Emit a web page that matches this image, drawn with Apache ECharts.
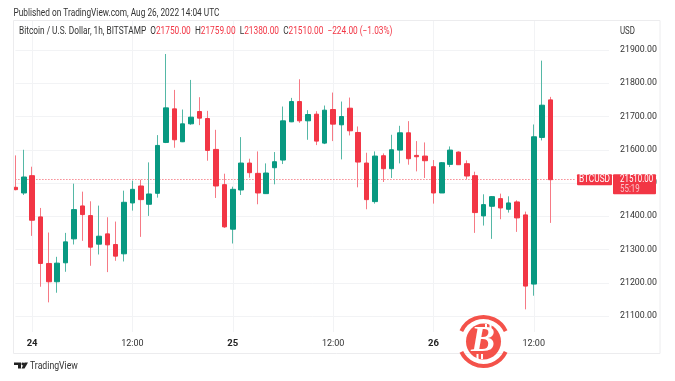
<!DOCTYPE html>
<html><head><meta charset="utf-8">
<style>html,body{margin:0;padding:0;background:#fff}#c{width:675px;height:381px}</style>
<script src="https://cdn.jsdelivr.net/npm/echarts@6/dist/echarts.min.js"></script></head>
<body><div id="c"></div>
<script>
const timeLabels=['22:00','23:00','24','01:00','02:00','03:00','04:00','05:00','06:00','07:00','08:00','09:00','10:00','11:00','12:00','13:00','14:00','15:00','16:00','17:00','18:00','19:00','20:00','21:00','22:00','23:00','25','01:00','02:00','03:00','04:00','05:00','06:00','07:00','08:00','09:00','10:00','11:00','12:00','13:00','14:00','15:00','16:00','17:00','18:00','19:00','20:00','21:00','22:00','23:00','26','01:00','02:00','03:00','04:00','05:00','06:00','07:00','08:00','09:00','10:00','11:00','12:00','13:00','14:00','15:00','16:00','17:00','18:00','19:00','20:00','21:00'];
const opens=[21487,21470,21522,21398,21258,21203,21260,21332,21431,21402,21316,21347,21315,21287,21440,21491,21436,21469,21622,21723,21624,21678,21715,21694,21601,21495,21361,21479,21560,21529,21468,21546,21569,21684,21745,21687,21707,21620,21721,21675,21725,21652,21560,21444,21582,21543,21599,21651,21583,21581,21549,21470,21556,21593,21558,21522,21401,21430,21453,21421,21443,21404,21196,21637,21750];
const closes=[21480,21518,21388,21258,21203,21259,21323,21420,21405,21307,21340,21314,21280,21442,21481,21450,21467,21613,21726,21630,21678,21698,21695,21598,21491,21368,21481,21560,21531,21470,21530,21564,21687,21745,21687,21706,21626,21719,21677,21700,21657,21563,21450,21581,21543,21600,21651,21573,21579,21567,21470,21561,21599,21555,21521,21411,21435,21459,21425,21440,21395,21190,21639,21734,21510];
const highs=[21583,21600,21549,21425,21351,21278,21350,21498,21474,21445,21432,21397,21384,21477,21507,21510,21562,21644,21888,21780,21721,21810,21758,21717,21660,21528,21489,21638,21573,21595,21559,21593,21730,21756,21812,21719,21716,21733,21772,21745,21757,21670,21591,21595,21589,21645,21672,21686,21626,21622,21569,21563,21610,21595,21568,21534,21466,21460,21468,21460,21448,21414,21676,21868,21759];
const lows=[21478,21464,21341,21188,21141,21170,21233,21315,21326,21251,21285,21232,21266,21264,21417,21338,21401,21456,21620,21606,21623,21675,21674,21567,21455,21365,21318,21464,21516,21436,21468,21496,21557,21683,21681,21630,21614,21617,21626,21571,21643,21487,21421,21438,21503,21515,21559,21555,21535,21515,21438,21470,21548,21555,21511,21350,21372,21332,21391,21411,21353,21120,21161,21628,21380];
const priceTicks=[21100,21200,21300,21400,21500,21600,21700,21800,21900];
const dayLabels=['24','25','26'];
const hourLabels=['12:00'];
const UP='#089981',DOWN='#F23645',UPWICK='#55b8a6',DOWNWICK='#f67a85';
const FONT='Roboto,sans-serif';
const fmt=v=>v.toFixed(2);
const n=opens.length,last=n-1;
const candle=opens.map((o,i)=>[o,closes[i],lows[i],highs[i]]);
const bodies=opens.map((o,i)=>[o,closes[i],Math.min(o,closes[i]),Math.max(o,closes[i])]);
const change=closes[last]-closes[last-1];
const chart=echarts.init(document.getElementById('c'),null,{renderer:'canvas'});
const showTick=(i)=>i%12===2;
chart.setOption({
 animation:false,
 backgroundColor:'#fff',
 grid:[
  {left:15.4,width:593.6,top:16.75,height:332.5},
  {left:15.4,width:593.6,top:20,bottom:49}
 ],
 xAxis:[
  {type:'category',gridIndex:0,data:timeLabels,boundaryGap:false,axisLine:{show:false},axisTick:{show:false},axisLabel:{show:false},splitLine:{show:false}},
  {type:'category',gridIndex:1,data:timeLabels,boundaryGap:false,axisLine:{show:false},axisTick:{show:false},
   axisLabel:{margin:7,fontFamily:FONT,fontSize:9,color:'#333',interval:(i)=>showTick(i),
    formatter:(v)=>dayLabels.includes(v)?`{d|${v}}`:(hourLabels.includes(v)?v:''),
    rich:{d:{fontFamily:FONT,fontSize:9.5,fontWeight:'bold',color:'#222'}}},
   splitLine:{show:true,interval:(i)=>showTick(i),lineStyle:{color:'#f2f3f5',width:1}}}
 ],
 yAxis:[
  {type:'value',gridIndex:0,position:'right',min:21000,max:22000,interval:100,axisLine:{show:false},axisTick:{show:false},
   axisLabel:{margin:11,fontFamily:FONT,fontSize:8.8,color:'#333',showMinLabel:false,showMaxLabel:false,formatter:(v)=>priceTicks.includes(v)?fmt(v):''},
   splitLine:{show:true,showMinLine:false,showMaxLine:false,lineStyle:{color:'#f2f3f5',width:1}}},
  {type:'value',gridIndex:1,show:false,min:0,max:1}
 ],
 series:[{
  name:'BTCUSD wicks',type:'candlestick',xAxisIndex:0,yAxisIndex:0,data:candle,barWidth:1,clip:false,z:5,
  itemStyle:{color:UPWICK,color0:DOWNWICK,borderColor:UPWICK,borderColor0:DOWNWICK,borderWidth:1},
  markLine:{silent:true,symbol:'none',label:{show:false},animation:false,
   lineStyle:{color:'#f4505d',type:[1,2],width:1,opacity:1},
   data:[[{coord:[0,closes[last]]},{coord:[67,closes[last]]}]]}
 },{
  name:'BTCUSD',type:'candlestick',xAxisIndex:0,yAxisIndex:0,data:bodies,barWidth:5,clip:false,z:6,
  itemStyle:{color:UP,color0:DOWN,borderColor:UP,borderColor0:DOWN,borderWidth:1}
 }]
});
const py=chart.convertToPixel({yAxisIndex:0},closes[last]);
const SX=0.79;
const headerRich={k:{fontFamily:FONT,fontSize:10.5,fill:'#333',color:'#333'},v:{fontFamily:FONT,fontSize:10.5,fill:DOWN,color:DOWN}};
const legend=`Bitcoin / U.S. Dollar, 1h, BITSTAMP  {k|O}{v|${fmt(opens[last])}}  {k|H}{v|${fmt(highs[last])}}  {k|L}{v|${fmt(lows[last])}}  {k|C}{v|${fmt(closes[last])}}  {v|\u2212${fmt(-change)} (\u2212${(-change/closes[last-1]*100).toFixed(2)}%)}`;
const label=(x,y,text,size,extra)=>({type:'text',z:15,x,y,scaleX:SX,style:Object.assign({x:0,y:0,text,fill:'#333',font:size+'px '+FONT,align:'left',verticalAlign:'middle'},extra||{})});
chart.setOption({graphic:[
 {type:'rect',z:10,shape:{x:0,y:16,width:13,height:340},style:{fill:'#fff'}},
 {type:'rect',z:11,shape:{x:13.5,y:20.5,width:646.5,height:333},style:{fill:'none',stroke:'#ececee',lineWidth:1}},
 label(13.5,13,'Published on TradingView.com, Aug 26, 2022 14:04 UTC',10.5),
 label(19,31,legend,10.5,{rich:headerRich}),
 label(620,31,'USD',10),
 label(30,366.5,'TradingView',11),
 {type:'rect',z:12,shape:{x:577,y:py-5.5,width:35,height:11,r:1},style:{fill:DOWN}},
 {type:'text',z:13,x:594.5,y:py,scaleX:SX,style:{x:0,y:0,text:'BTCUSD',fill:'#fff',font:'10.5px '+FONT,align:'center',verticalAlign:'middle'}},
 {type:'rect',z:12,shape:{x:613,y:py-5.5,width:43,height:20,r:1},style:{fill:DOWN}},
 label(620,py,fmt(closes[last]),10,{fill:'#fff'}),
 label(620,py+9.5,'55:19',10,{fill:'#fbc0c5'}),
 // site watermark
 {type:'ellipse',z:20,shape:{cx:483.5,cy:341.5,rx:17.5,ry:18},style:{fill:'#f4524a'}},
 {type:'arc',z:20,shape:{cx:483.5,cy:341.5,r:24.5,startAngle:-2.7,endAngle:-0.44},style:{fill:'none',stroke:'#f4524a',lineWidth:4}},
 {type:'arc',z:20,shape:{cx:483.5,cy:341.5,r:24.5,startAngle:0.44,endAngle:2.7},style:{fill:'none',stroke:'#f4524a',lineWidth:4}},
 {type:'text',z:21,style:{x:483,y:342,text:'B',fill:'#fff',font:'italic bold 36px "Liberation Serif"',align:'center',verticalAlign:'middle'}},
 {type:'rect',z:21,shape:{x:485,y:324,width:2,height:5},style:{fill:'#fff'}},
 {type:'rect',z:21,shape:{x:489.5,y:324,width:2,height:5},style:{fill:'#fff'}},
 {type:'rect',z:21,shape:{x:476.5,y:354,width:2,height:5},style:{fill:'#fff'}},
 {type:'rect',z:21,shape:{x:481,y:354,width:2,height:5},style:{fill:'#fff'}},
 // TradingView mark
 {type:'polygon',z:20,shape:{points:[[14,362.5],[21,362.5],[21,368.5],[18,368.5],[18,365],[14,365]]},style:{fill:'#222'}},
 {type:'circle',z:20,shape:{cx:22.8,cy:364,r:1.4},style:{fill:'#222'}},
 {type:'polygon',z:20,shape:{points:[[24.5,362.5],[28,362.5],[24.5,368.5],[21.5,368.5]]},style:{fill:'#222'}}
]});
</script></body></html>
